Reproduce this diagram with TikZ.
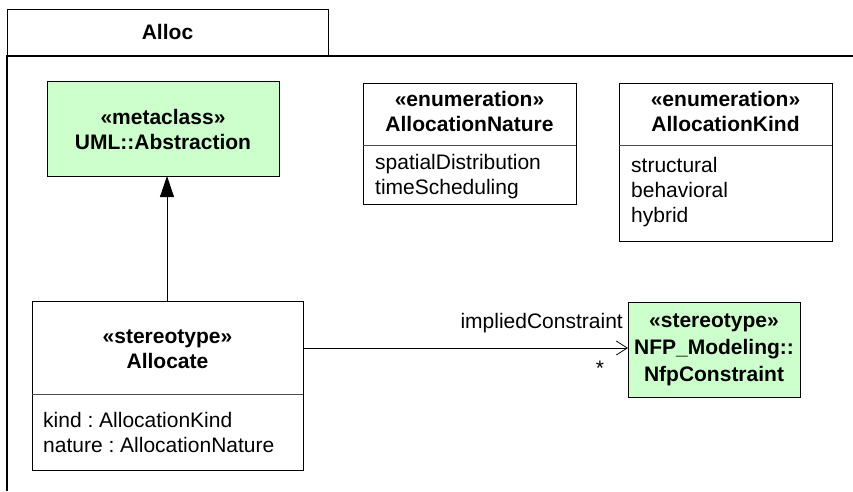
\documentclass[tikz,border=0pt]{standalone}
\usepackage{fontspec}
\setmainfont{Liberation Sans}
\usetikzlibrary{arrows.meta}
\definecolor{umlgreen}{HTML}{CCFFCC}
\tikzset{
  box/.style={draw=black, line width=1pt},
  greenbox/.style={box, fill=umlgreen},
  divider/.style={draw=black!70, line width=0.8pt},
  frame/.style={draw=black, line width=2pt},
  txt/.style={inner sep=0pt, font=\fontsize{21}{25}\selectfont\frenchspacing},
  btxt/.style={txt, font=\fontsize{21}{25}\selectfont\bfseries, align=center},
  ltxt/.style={txt, align=left, anchor=west}
}
\begin{document}
\begin{tikzpicture}[x=1pt, y=-1pt]
\useasboundingbox (0,0) rectangle (853,491);
% package frame
\draw[line width=1pt] (7,55) -- (7,9) -- (328,9) -- (328,55);
\draw[frame] (7,491) -- (7,55.5) -- (853,55.5);
\node[btxt] (pkg) at (167.5,32) {Alloc};
% Abstraction
\path[greenbox] (47,81) rectangle (279,176);
\coordinate (absbot) at (167,176);
\node[btxt] (abs) at (163,129) {«metaclass»\\UML::Abstraction};
% AllocationNature
\path[box] (363,83) rectangle (576,204);
\draw[divider] (363,145) -- (576,145);
\node[btxt] (nat) at (469.5,111) {«enumeration»\\AllocationNature};
\node[ltxt] (natlit) at (375,177) {spatialDistribution\\timeScheduling};
% AllocationKind
\path[box] (619,83) rectangle (832,241);
\draw[divider] (619,145) -- (832,145);
\node[btxt] (kind) at (725.5,111) {«enumeration»\\AllocationKind};
\node[ltxt] (kindlit) at (631,192) {structural\\behavioral\\hybrid};
% Allocate
\path[box] (32,301) rectangle (303,470);
\draw[divider] (32,394) -- (303,394);
\coordinate (alltop) at (167,301);
\coordinate (allright) at (303,348);
\node[btxt] (alloc) at (167.5,349) {«stereotype»\\Allocate};
\node[ltxt] (attrs) at (43,432) {kind : AllocationKind\\nature : AllocationNature};
% NfpConstraint
\path[greenbox] (628,302) rectangle (800,397);
\coordinate (nfpleft) at (628,348);
\node[btxt, font=\fontsize{21}{27}\selectfont\bfseries] (nfp) at (714,349.5) {«stereotype»\\NFP\_Modeling::\\NfpConstraint};
% connectors
\draw[line width=0.8pt, -{Triangle[length=21pt, width=14pt]}] (alltop) -- (absbot);
\draw[line width=0.8pt, -{Straight Barb[length=11pt, width=14pt, line width=0.8pt]}] (allright) -- (nfpleft);
\node[txt, anchor=east] (role) at (623,323) {impliedConstraint};
\node[txt] (mult) at (600,368) {*};
\end{tikzpicture}
\end{document}
